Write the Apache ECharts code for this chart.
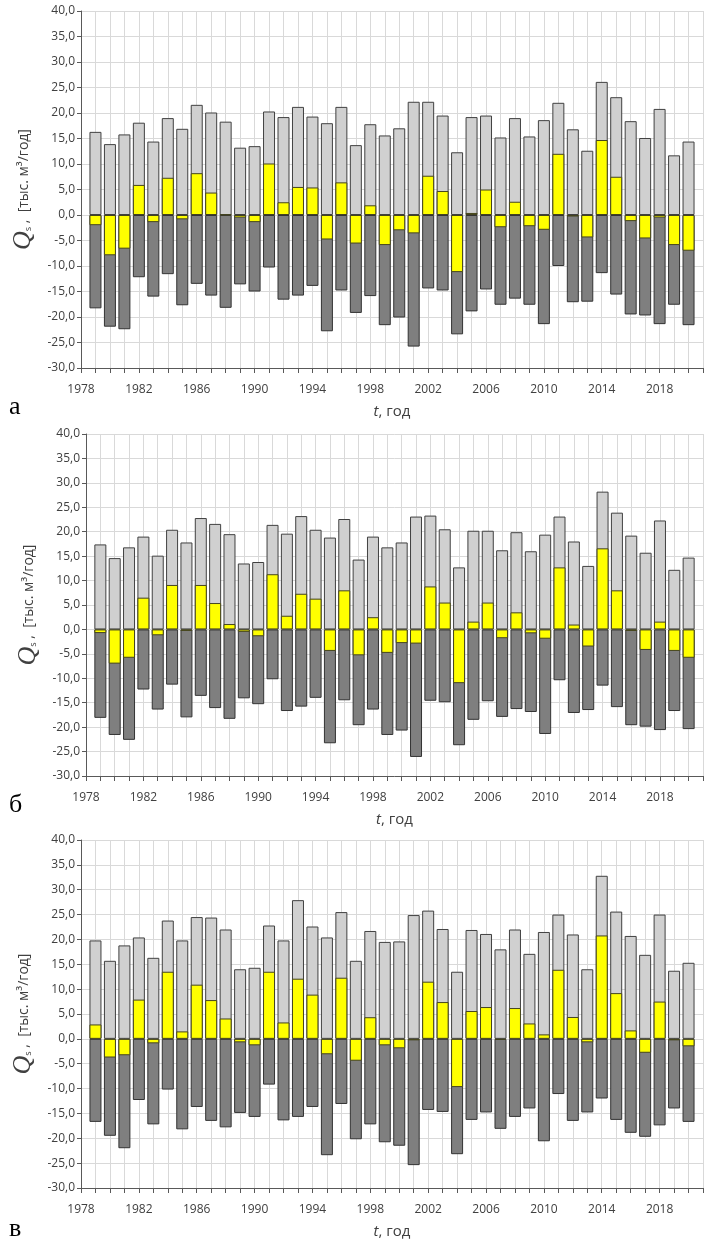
<!DOCTYPE html>
<html><head><meta charset="utf-8">
<script src="https://cdn.jsdelivr.net/npm/echarts@6/dist/echarts.min.js"></script>
<style>html,body{margin:0;padding:0;background:#fff}#c{width:706px;height:1242px}</style>
</head><body><div id="c"></div>
<script>
const years = [];
for (let y = 1979; y <= 2020; y++) years.push(y);
const panelLabels = ['а', 'б', 'в'];
const yTicks = [-30, -25, -20, -15, -10, -5, 0, 5, 10, 15, 20, 25, 30, 35, 40];
const xLabelYears = [1978, 1982, 1986, 1990, 1994, 1998, 2002, 2006, 2010, 2014, 2018];

// Panel а
const inA  = [16.3,13.9,15.8,18.1,14.4,19.0,16.9,21.6,20.1,18.3,13.2,13.5,20.3,19.2,21.2,19.3,18.0,21.2,13.7,17.8,15.6,17.0,22.2,22.2,19.5,12.3,19.2,19.5,15.2,19.0,15.4,18.6,22.0,16.8,12.6,26.1,23.1,18.4,15.1,20.8,11.7,14.4];
const outA = [-18.3,-21.9,-22.4,-12.2,-16.0,-11.6,-17.7,-13.5,-15.8,-18.2,-13.6,-15.0,-10.3,-16.6,-15.8,-13.9,-22.8,-14.8,-19.2,-15.9,-21.6,-20.1,-25.8,-14.4,-14.8,-23.4,-18.9,-14.6,-17.6,-16.4,-17.6,-21.4,-10.0,-17.1,-17.0,-11.4,-15.6,-19.5,-19.7,-21.4,-17.6,-21.6];
const netA = [-2.0,-7.9,-6.6,5.9,-1.4,7.3,-0.85,8.2,4.4,0.1,-0.5,-1.4,10.1,2.5,5.5,5.4,-4.8,6.4,-5.6,1.9,-5.9,-3.0,-3.6,7.7,4.7,-11.2,0.4,5.0,-2.4,2.6,-2.2,-2.9,12.0,-0.3,-4.4,14.7,7.5,-1.2,-4.6,-0.5,-5.9,-7.0];
// Panel б
const inB  = [17.4,14.6,16.8,19.0,15.1,20.4,17.8,22.8,21.6,19.5,13.5,13.8,21.4,19.6,23.2,20.4,18.8,22.6,14.3,19.0,16.8,17.8,23.1,23.3,20.5,12.7,20.2,20.2,16.2,19.9,16.0,19.4,23.1,18.0,13.0,28.2,23.9,19.2,15.7,22.3,12.2,14.7];
const outB = [-18.1,-21.6,-22.6,-12.3,-16.4,-11.3,-18.0,-13.6,-16.1,-18.3,-14.1,-15.3,-10.2,-16.7,-15.8,-14.0,-23.3,-14.5,-19.6,-16.4,-21.6,-20.7,-26.1,-14.6,-14.9,-23.7,-18.5,-14.7,-17.9,-16.3,-16.9,-21.4,-10.4,-17.1,-16.5,-11.5,-15.9,-19.6,-19.9,-20.6,-16.7,-20.4];
const netB = [-0.75,-7.0,-5.8,6.5,-1.2,9.1,-0.3,9.1,5.4,1.1,-0.5,-1.4,11.3,2.8,7.3,6.3,-4.4,8.0,-5.3,2.5,-4.8,-2.8,-2.9,8.8,5.5,-11.0,1.6,5.5,-1.8,3.5,-0.8,-1.9,12.7,1.0,-3.5,16.6,8.0,-0.3,-4.2,1.6,-4.4,-5.8];
// Panel в
const inC  = [19.8,15.7,18.8,20.4,16.3,23.8,19.8,24.5,24.4,22.0,14.0,14.3,22.8,19.8,27.9,22.6,20.4,25.5,15.7,21.7,19.5,19.6,24.9,25.8,22.1,13.5,21.9,21.1,18.0,22.0,17.1,21.5,25.0,21.0,14.0,32.8,25.6,20.7,16.9,25.0,13.7,15.3];
const outC = [-16.7,-19.5,-22.0,-12.3,-17.2,-10.2,-18.2,-13.7,-16.5,-17.8,-14.9,-15.7,-9.2,-16.4,-15.7,-13.7,-23.4,-13.1,-20.2,-17.2,-20.8,-21.5,-25.4,-14.3,-14.7,-23.2,-16.3,-14.8,-18.1,-15.7,-14.0,-20.6,-11.1,-16.5,-14.8,-12.0,-16.3,-18.9,-19.7,-17.4,-14.0,-16.7];
const netC = [2.9,-3.75,-3.3,7.9,-0.9,13.5,1.5,10.9,7.8,4.1,-0.7,-1.3,13.5,3.3,12.1,8.9,-3.1,12.3,-4.4,4.35,-1.3,-1.9,-0.3,11.5,7.4,-9.7,5.6,6.4,-0.2,6.2,3.1,0.9,13.9,4.4,-0.7,20.8,9.2,1.7,-2.8,7.5,-0.3,-1.5];

const panels = [
  {inp: inA, out: outA, net: netA, left: 81, right: -3, top: 11, height: 357, letterY: 410},
  {inp: inB, out: outB, net: netB, left: 86, right: 1, top: 434, height: 342, letterY: 808},
  {inp: inC, out: outC, net: netC, left: 81, right: -4, top: 840, height: 348, letterY: 1232}
];

const font = 'Open Sans';
const textColor = '#404040';
const gridColor = '#d9d9d9';
const axisColor = '#595959';

const grids = [], xAxes = [], yAxes = [], series = [], graphics = [];
panels.forEach((p, i) => {
  grids.push({left: p.left, right: p.right, top: p.top, height: p.height, containLabel: false});
  xAxes.push({
    type: 'value', gridIndex: i, min: 1978, max: 2021, interval: 1,
    name: '{i|t}{n|, год}', nameLocation: 'middle', nameGap: 36,
    nameTextStyle: {rich: {
      i: {fontFamily: font, fontStyle: 'italic', fontSize: 15, color: textColor},
      n: {fontFamily: font, fontSize: 15, color: textColor}
    }},
    axisLine: {show: true, onZero: false, lineStyle: {color: axisColor, width: 1}},
    axisTick: {show: true, length: 5, lineStyle: {color: axisColor}},
    axisLabel: {
      margin: 16, color: textColor, fontFamily: font, fontSize: 12,
      formatter: v => xLabelYears.indexOf(v) >= 0 ? String(v) : ''
    },
    splitLine: {show: true, lineStyle: {color: gridColor, width: 1}}
  });
  yAxes.push({
    type: 'value', gridIndex: i, min: yTicks[0], max: yTicks[yTicks.length - 1], interval: 5,
    name: '{q|Q}{s|s}{t| ,  [тыс. м³/год]}', nameLocation: 'middle', nameGap: 35,
    nameTextStyle: {rich: {
      q: {fontFamily: 'Liberation Serif', fontStyle: 'italic', fontSize: 26, color: textColor},
      s: {fontFamily: font, fontSize: 9, color: textColor, padding: [10, 0, 0, 0]},
      t: {fontFamily: font, fontSize: 14, color: textColor}
    }},
    axisLine: {show: true, onZero: false, lineStyle: {color: axisColor, width: 1}},
    axisTick: {show: true, length: 4, lineStyle: {color: axisColor}},
    axisLabel: {
      margin: 6, color: textColor, fontFamily: font, fontSize: 12,
      formatter: v => v.toFixed(1).replace('.', ',')
    },
    splitLine: {show: true, lineStyle: {color: gridColor, width: 1}}
  });
  const mk = (arr) => arr.map((v, k) => [years[k], v]);
  const base = {type: 'bar', xAxisIndex: i, yAxisIndex: i, barWidth: 12, barGap: '-100%', silent: true, animation: false};
  series.push(Object.assign({}, base, {name: 'in' + i, data: mk(p.inp),
    itemStyle: {color: '#d0d0d0', borderColor: '#404040', borderWidth: 1}}));
  series.push(Object.assign({}, base, {name: 'out' + i, data: mk(p.out),
    itemStyle: {color: '#7f7f7f', borderColor: '#333333', borderWidth: 1}}));
  series.push(Object.assign({}, base, {name: 'net' + i, data: mk(p.net),
    itemStyle: {color: '#ffff00', borderColor: '#44441f', borderWidth: 1}}));
  graphics.push({type: 'text', left: 9, top: p.letterY - 16,
    style: {text: panelLabels[i], fontFamily: 'Liberation Serif', fontSize: 26, fill: '#000'}});
});

const chart = echarts.init(document.getElementById('c'), null, {renderer: 'canvas'});
chart.setOption({
  animation: false,
  backgroundColor: '#fff',
  grid: grids, xAxis: xAxes, yAxis: yAxes, series: series, graphic: graphics
});
</script></body></html>
